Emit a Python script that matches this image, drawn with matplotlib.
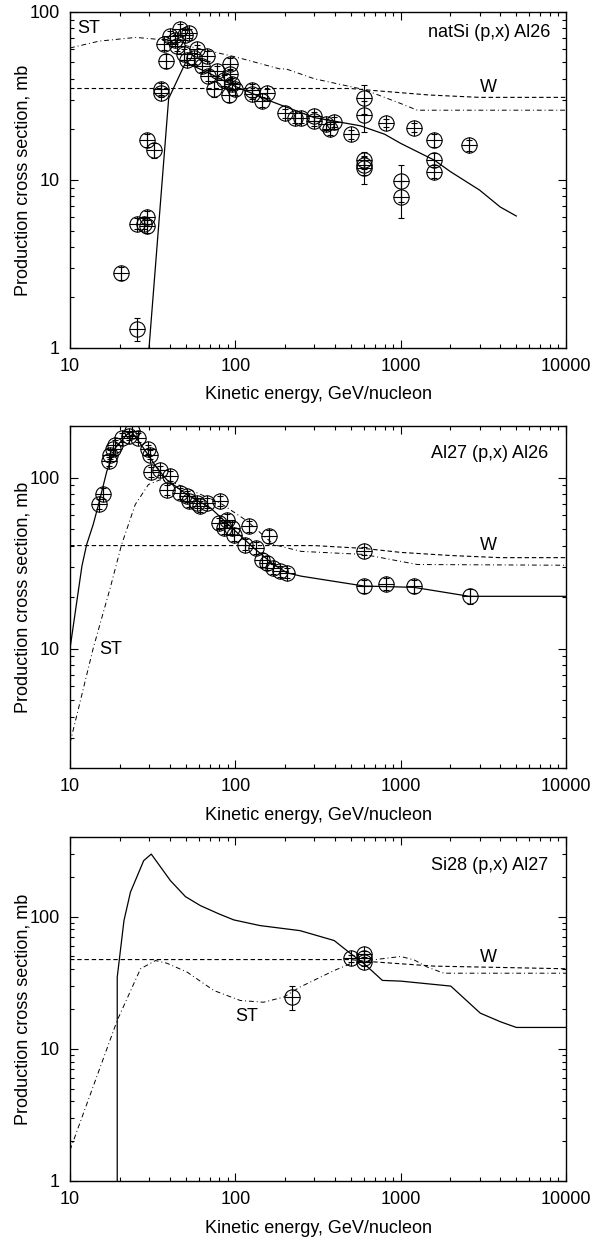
import numpy as np
import matplotlib
matplotlib.use("Agg")
import matplotlib.pyplot as plt

plt.rcParams['font.family'] = ['Liberation Sans', 'DejaVu Sans']
plt.rcParams['font.size'] = 13

# ---------- panel 1: natSi (p,x) Al26 ----------
top_E = [20.3, 25.5, 25.5, 28, 29.4, 29.2, 29.4, 32.4, 35.4, 35.4, 38.2, 36.8, 40.4,
         46.4, 49.8, 52.1, 44.3, 48.6, 51, 58.6, 62.8, 67.3, 68.8, 74, 77.4, 84.9,
         93.2, 93.2, 95.4, 91.2, 100, 56, 43.3, 126, 126, 155.6, 145, 201, 231, 248,
         298, 298, 351, 394, 376, 498, 601, 601, 812, 1203, 1590, 1590, 1590, 2582,
         601, 601, 601, 1000, 1000]
top_sig = [2.8, 1.3, 5.5, 5.5, 6.0, 5.3, 17.3, 15.0, 35, 33, 51.2, 64, 71.5,
           78.9, 73, 74.6, 62.5, 56, 52, 59.8, 47.9, 54.7, 41.8, 35, 44.7, 39.1,
           48.9, 42.7, 37.4, 32, 35, 53.3, 68.5, 34.2, 32.5, 32.7, 29.3, 25, 23.4, 23.4,
           23.9, 22.4, 21.4, 22.2, 20, 18.7, 30.6, 24.4, 21.9, 20.5, 17.3, 13.2, 11.2, 16.1,
           13.1, 12.2, 11.7, 9.8, 7.9]
top_err = [0.25, 0.2, 0.4, 0.4, 0.5, 0.5, 1.5, 1.5, 3, 2, 5, 5, 5,
           6, 5, 5, 4, 4, 4, 4, 4, 4, 3, 4, 3, 3,
           4, 3, 3, 3, 3, 4, 4, 3, 2, 2, 2, 1.5, 1.5, 1.5,
           1.5, 1.5, 1.5, 1.5, 1.5, 1.2, 6, 5, 1.3, 1.2, 1.5, 1.2, 1, 1.2,
           1.5, 1.5, 2.2, 2.4, 2]

top_calc_E = [29.8, 39.5, 50, 70, 100, 170, 300, 570, 800, 1000, 1600, 2000, 3000, 4000, 5000]
top_calc = [0.9, 30.5, 50, 43, 36, 29, 23.5, 21, 18.7, 16.5, 13.1, 11.2, 8.7, 6.9, 6.1]
top_W_E = [10, 500, 700, 1500, 3000, 10000]
top_W = [35, 35, 34, 32, 31, 31]
top_ST_E = [10, 15, 25, 35, 50, 70, 100, 190, 200, 300, 600, 1000, 1260, 10000]
top_ST = [61, 67, 70.5, 68.5, 63, 58.5, 54, 45.5, 46, 40, 34.5, 28.5, 26, 26]

# ---------- panel 2: Al27 (p,x) Al26 ----------
mid_E = [14.9, 15.9, 17.1, 17.4, 18.1, 18.8, 20.5, 22.6, 23.6, 25.9, 29.8, 30.6, 30.8,
         35.1, 38.5, 40.4, 46.4, 51, 52.1, 58.6, 61.4, 67.3, 81, 79.2, 89, 85, 95.4,
         97.7, 120.5, 115, 132.5, 159, 145, 155, 170, 187, 206, 601, 601, 812, 1203, 2624]
mid_sig = [70.2, 80.5, 124.7, 136, 146, 156, 171, 175, 188, 171, 146, 136, 108,
           110, 85, 102, 81.3, 77.8, 72.7, 71.1, 68, 71.1, 73.3, 54.3, 56.8, 50.8, 50.8,
           46.4, 51.9, 40.5, 38.8, 45.4, 33.1, 31.7, 29.4, 28.3, 27.7, 37.1, 23.2, 23.9, 23.2, 20.2]
mid_err = [5, 6, 8, 8, 9, 9, 10, 10, 11, 10, 9, 8, 7,
           7, 6, 7, 6, 6, 5, 5, 5, 5, 5, 4, 4, 4, 4,
           4, 4, 3, 3, 4, 3, 3, 2, 2, 2, 2, 2, 2, 2, 2]

mid_calc_E = [10, 11.8, 12.6, 13.8, 14.9, 16.7, 18.8, 22, 23.6, 27.8, 33.5, 38.5, 51, 70.7,
              97.7, 129, 170, 206, 250, 600, 1200, 2600, 10000]
mid_calc = [10, 30.3, 40.5, 53, 70, 109, 149, 178, 185, 149, 114, 97, 79.4, 66.5,
            49.7, 38.8, 31, 27.7, 26.5, 23.2, 22.8, 20.2, 20.2]
mid_W_E = [10, 300, 600, 1000, 2000, 4000, 10000]
mid_W = [40, 40, 38.5, 36.5, 35, 34, 34]
mid_ST_E = [10, 13.8, 17.5, 20.5, 24.8, 29.8, 35, 40.4, 56, 81, 118, 142, 171, 250, 600, 1260, 10000]
mid_ST = [2.8, 10, 22.6, 40.5, 69.5, 91, 97, 95, 83, 71, 55.6, 47.4, 40.5, 37, 35.5, 31, 30.7]

# ---------- panel 3: Si28 (p,x) Al27 ----------
bot_E = [220, 500, 601, 601, 601]
bot_sig = [24.6, 48.5, 52.3, 48.7, 45.2]
bot_err = [5, 3, 3, 3, 3]

bot_calc_E = [19.3, 19.3, 21.2, 23.2, 27.9, 31.0, 40.5, 49.9, 61.5, 79.3, 97.8, 141, 246,
              396, 500, 601, 775, 1000, 2009, 3030, 4016, 5010, 10000]
bot_calc = [0.5, 34.8, 93.3, 153, 265, 297, 187, 141.6, 121, 105, 94.4, 85.5, 78.3,
            65.9, 52.3, 44, 32.9, 32.5, 29.8, 18.6, 16, 14.5, 14.5]
bot_W_E = [10, 500, 600, 1589, 10000]
bot_W = [47.3, 47.3, 46, 42.2, 40.3]
bot_ST_E = [10, 19.3, 26.7, 32.9, 38.7, 51.1, 74.1, 107, 148, 196, 246, 396, 523, 1000,
            1203, 1448, 1826, 10000]
bot_ST = [1.71, 16.4, 40.3, 46.5, 44.3, 38, 27.6, 23.2, 22.5, 24.6, 29.3, 39.1, 45.2, 49.9,
          47.1, 41.5, 37.3, 37.3]

panels = [
    dict(E=top_E, s=top_sig, e=top_err, cE=top_calc_E, c=top_calc, wE=top_W_E, w=top_W,
         stE=top_ST_E, st=top_ST, ylim=(1, 100), title='natSi (p,x) Al26',
         rect=[0.1165, 0.7194, 0.8253, 0.2710], st_pos=(0.014, 0.952), w_pos=(0.843, 0.774),
         t_pos=(0.968, 0.9375)),
    dict(E=mid_E, s=mid_sig, e=mid_err, cE=mid_calc_E, c=mid_calc, wE=mid_W_E, w=mid_W,
         stE=mid_ST_E, st=mid_ST, ylim=(2, 200), title='Al27 (p,x) Al26',
         rect=[0.1165, 0.3806, 0.8253, 0.2758], st_pos=(0.059, 0.348), w_pos=(0.843, 0.652),
         t_pos=(0.964, 0.921)),
    dict(E=bot_E, s=bot_sig, e=bot_err, cE=bot_calc_E, c=bot_calc, wE=bot_W_E, w=bot_W,
         stE=bot_ST_E, st=bot_ST, ylim=(1, 400), title='Si28 (p,x) Al27',
         rect=[0.1165, 0.0476, 0.8253, 0.2774], st_pos=(0.357, 0.477), w_pos=(0.843, 0.651),
         t_pos=(0.964, 0.916)),
]

fig = plt.figure(figsize=(6.01, 12.4), dpi=100)

for p in panels:
    ax = fig.add_axes(p['rect'])
    ax.set_xscale('log')
    ax.set_yscale('log')

    ax.plot(p['cE'], p['c'], color='black', lw=0.9)
    ax.plot(p['wE'], p['w'], color='black', lw=0.8, dashes=(4, 2.5))
    ax.plot(p['stE'], p['st'], color='black', lw=0.7, dashes=(5, 3, 1, 3))

    ax.errorbar(p['E'], p['s'], yerr=p['e'], fmt='none', ecolor='black',
                elinewidth=0.8, capsize=2.5, capthick=0.8)
    ax.plot(p['E'], p['s'], linestyle='none', marker='o', ms=11, mfc='none',
            mec='black', mew=0.8)
    ax.plot(p['E'], p['s'], linestyle='none', marker='+', ms=11,
            mec='black', mew=0.8)

    ax.set_xlim(10, 10000)
    ax.set_ylim(*p['ylim'])
    ax.set_xticks([10, 100, 1000, 10000])
    ax.set_xticklabels(['10', '100', '1000', '10000'])
    yt = [t for t in [1, 10, 100] if p['ylim'][0] <= t <= p['ylim'][1]]
    ax.set_yticks(yt)
    ax.set_yticklabels([str(t) for t in yt])
    ax.tick_params(which='both', direction='in', top=True, right=True, width=0.8)
    ax.tick_params(which='major', length=6, pad=7.5)
    ax.tick_params(which='minor', length=3)
    for sp in ax.spines.values():
        sp.set_linewidth(1.0)

    ax.set_xlabel('Kinetic energy, GeV/nucleon', labelpad=8)
    ax.set_ylabel('Production cross section, mb')
    ax.yaxis.set_label_coords(-0.077, 0.5)

    ax.text(p['t_pos'][0], p['t_pos'][1], p['title'], transform=ax.transAxes,
            ha='right', va='center')
    ax.text(p['w_pos'][0], p['w_pos'][1], 'W', transform=ax.transAxes,
            ha='center', va='center')
    ax.text(p['st_pos'][0], p['st_pos'][1], 'ST', transform=ax.transAxes,
            ha='left' if p['st_pos'][0] < 0.2 else 'center', va='center')

fig.savefig('out.png', dpi=100)
